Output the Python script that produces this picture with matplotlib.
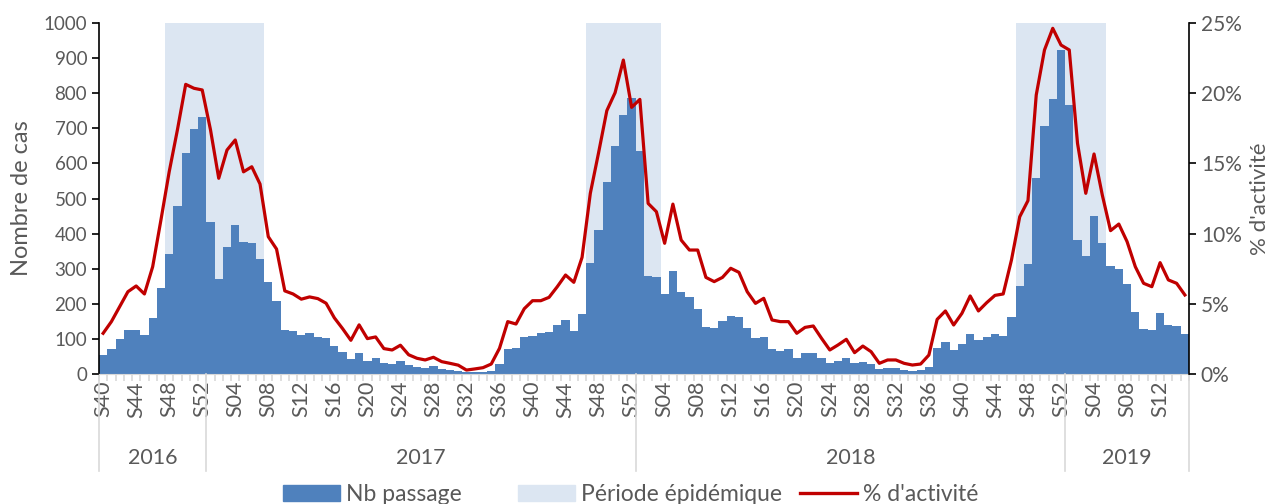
import numpy as np
import matplotlib
matplotlib.use('Agg')
import matplotlib.pyplot as plt
from matplotlib.patches import Patch
from matplotlib.lines import Line2D
from matplotlib.ticker import PercentFormatter
import matplotlib.transforms as mtransforms

plt.rcParams['font.family'] = ['Lato', 'DejaVu Sans']

# semaines couvertes par le graphique
annees = [2016, 2017, 2018, 2019]
sem_debut = [40, 1, 1, 1]
sem_fin = [52, 52, 52, 15]

# nombre de passages par semaine
nb_passage = [
    53, 72, 101, 126, 124, 112, 160, 246, 341, 479, 630, 697, 733,
    433, 270, 362, 424, 375, 373, 328, 263, 209, 125, 122, 111, 116,
    105, 102, 81, 62, 42, 60, 37, 47, 31, 28, 37, 27, 20, 18, 23, 14,
    10, 9, 5, 5, 7, 9, 28, 70, 73, 106, 109, 116, 121, 140, 154, 123,
    170, 315, 410, 547, 650, 739, 786,
    636, 279, 275, 228, 294, 235, 218, 186, 133, 132, 151, 165, 161,
    130, 102, 104, 70, 66, 70, 47, 59, 60, 47, 32, 38, 47, 30, 34, 28,
    14, 18, 18, 12, 9, 10, 20, 73, 91, 68, 85, 114, 97, 106, 114, 108,
    163, 251, 313, 559, 707, 783, 923,
    765, 382, 336, 451, 372, 309, 298, 256, 176, 127, 125, 173, 141,
    138, 114,
]

# % d'activite par semaine
pct_activite = [
    2.9, 3.73, 4.8, 5.86, 6.27, 5.7, 7.64, 10.97, 14.4, 17.4, 20.63, 20.35, 20.23,
    17.4, 13.94, 15.95, 16.67, 14.4, 14.76, 13.53, 9.78, 8.9, 5.92, 5.7, 5.33, 5.49,
    5.37, 5.04, 4.0, 3.23, 2.4, 3.5, 2.52, 2.64, 1.81, 1.71, 2.05, 1.37, 1.12, 1.0,
    1.19, 0.88, 0.76, 0.63, 0.28, 0.36, 0.45, 0.71, 1.83, 3.73, 3.56, 4.65, 5.22,
    5.22, 5.46, 6.22, 7.05, 6.53, 8.31, 12.87, 15.76, 18.76, 20.04, 22.36, 18.99,
    19.56, 12.15, 11.56, 9.31, 12.1, 9.54, 8.83, 8.83, 6.88, 6.58, 6.88, 7.53, 7.24,
    5.86, 5.03, 5.39, 3.85, 3.73, 3.73, 2.9, 3.32, 3.42, 2.54, 1.71, 2.07, 2.47,
    1.52, 1.99, 1.59, 0.76, 1.0, 1.0, 0.76, 0.64, 0.71, 1.35, 3.89, 4.49, 3.49,
    4.32, 5.56, 4.49, 5.08, 5.6, 5.7, 8.12, 11.2, 12.35, 19.87, 23.08, 24.62, 23.43,
    23.08, 16.43, 12.87, 15.67, 12.75, 10.21, 10.68, 9.43, 7.64, 6.46, 6.22, 7.93,
    6.7, 6.46, 5.63,
]

# periodes epidemiques (annee, semaine debut, annee, semaine fin)
periodes = [(2016, 48, 2017, 7), (2017, 47, 2018, 3), (2018, 47, 2019, 5)]

semaines = []
for a, d, f in zip(annees, sem_debut, sem_fin):
    for s in range(d, f + 1):
        semaines.append((a, s))
x = np.arange(len(semaines))
etiquettes = ['S%02d' % s for a, s in semaines]

epid = np.zeros(len(x))
for a1, s1, a2, s2 in periodes:
    i1 = semaines.index((a1, s1))
    i2 = semaines.index((a2, s2))
    epid[i1:i2 + 1] = 1000

gris = '#595959'
W, H = 1274, 504
fig = plt.figure(figsize=(W / 100, H / 100), dpi=100)
ax = fig.add_axes([99 / W, 1 - 374 / H, 1090 / W, 351 / H])

ax.bar(x, epid, width=1.0, color='#DCE6F2', zorder=1)
ax.bar(x, nb_passage, width=1.0, color='#4F81BD', zorder=2)
ax.set_xlim(-0.5, len(x) - 0.5)
ax.set_ylim(0, 1000)
ax.set_yticks(range(0, 1001, 100))

ax.set_xticks(x[::4])
ax.set_xticklabels(etiquettes[::4], rotation=90)
ax.set_xticks(np.arange(-0.5, len(x), 1), minor=True)
ax.tick_params(axis='x', which='major', length=0, pad=5, labelsize=15.5, labelcolor=gris)
ax.tick_params(axis='x', which='minor', length=5, width=1.2, color='#D9D9D9')
ax.tick_params(axis='y', direction='out', length=5, width=1.2, color='black',
               labelsize=13.5, labelcolor=gris)
ax.spines['top'].set_visible(False)
ax.spines['right'].set_visible(False)
ax.spines['left'].set_linewidth(1.2)
ax.spines['bottom'].set_color('#D9D9D9')
ax.set_ylabel('Nombre de cas', fontsize=17, color=gris, labelpad=8)

ax2 = ax.twinx()
ax2.plot(x, np.array(pct_activite) / 100, color='#C00000', lw=2.3, zorder=3)
ax2.set_ylim(0, 0.25)
ax2.set_yticks(np.arange(0, 0.26, 0.05))
ax2.yaxis.set_major_formatter(PercentFormatter(1.0, decimals=0))
ax2.tick_params(axis='y', direction='out', length=5, width=1.2, color='black',
                labelsize=15, labelcolor=gris)
for s in ['top', 'left', 'bottom']:
    ax2.spines[s].set_visible(False)
ax2.spines['right'].set_linewidth(1.2)
ax2.set_ylabel("% d'activité", fontsize=16, color=gris, labelpad=6)

# separateurs et libelles des annees
trans = mtransforms.blended_transform_factory(ax.transData, ax.transAxes)
bornes = [-0.5]
for a in annees:
    bornes.append(max(i for i, (aa, s) in enumerate(semaines) if aa == a) + 0.5)
for b in bornes:
    ax.plot([b, b], [0, -0.275], transform=trans, color='#D9D9D9', lw=1.2, clip_on=False)
for a, b0, b1 in zip(annees, bornes[:-1], bornes[1:]):
    ax.text((b0 + b1) / 2, -0.24, str(a), transform=trans, ha='center', va='center',
            fontsize=15.5, color=gris)

# legende en bas
h_barres = [Patch(color='#4F81BD', label='Nb passage'),
            Patch(color='#DCE6F2', label='Période épidémique')]
h_ligne = [Line2D([], [], color='#C00000', lw=2.4, label="% d'activité")]
leg1 = fig.legend(handles=h_barres, loc='center left', bbox_to_anchor=(283 / W, 0.018),
                  ncol=2, frameon=False, fontsize=16.5, handlelength=2.5,
                  columnspacing=2.45, handletextpad=0.25, borderpad=0, borderaxespad=0)
leg2 = fig.legend(handles=h_ligne, loc='center left', bbox_to_anchor=(800 / W, 0.018),
                  frameon=False, fontsize=16.5, handlelength=2.5,
                  handletextpad=0.25, borderpad=0, borderaxespad=0)
for leg in (leg1, leg2):
    for t in leg.get_texts():
        t.set_color(gris)

fig.savefig('out.png', dpi=100)
